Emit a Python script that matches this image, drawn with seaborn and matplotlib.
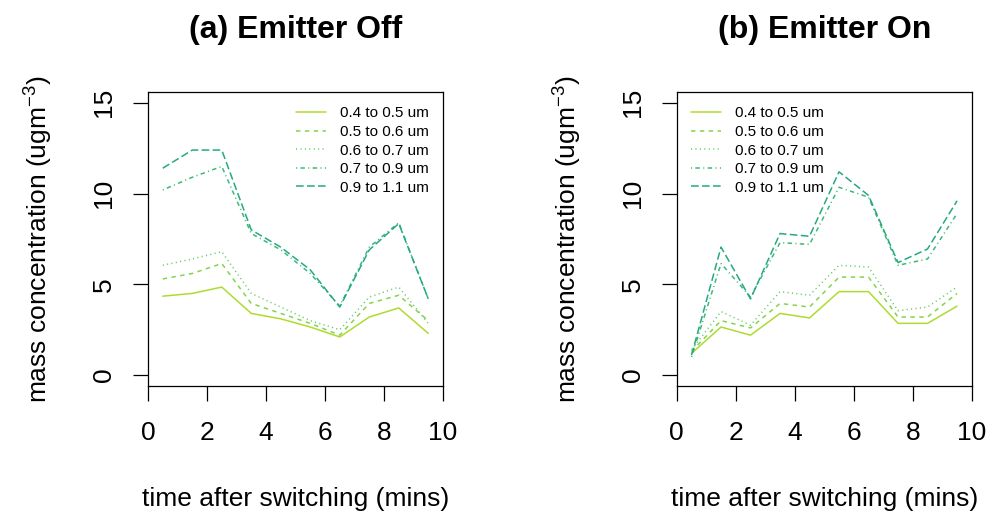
import numpy as np
import pandas as pd
import matplotlib
matplotlib.use("Agg")
import matplotlib.pyplot as plt
import seaborn as sns

# ---- data ----
time_mins = [0.5, 1.5, 2.5, 3.5, 4.5, 5.5, 6.5, 7.5, 8.5, 9.5]
size_bins = ["0.4 to 0.5 um", "0.5 to 0.6 um", "0.6 to 0.7 um",
             "0.7 to 0.9 um", "0.9 to 1.1 um"]

off_04_05 = [4.35, 4.5, 4.85, 3.4, 3.1, 2.65, 2.1, 3.2, 3.7, 2.3]
off_05_06 = [5.3, 5.6, 6.15, 3.95, 3.4, 2.85, 2.2, 3.95, 4.4, 3.0]
off_06_07 = [6.05, 6.4, 6.8, 4.5, 3.75, 3.0, 2.5, 4.3, 4.85, 2.85]
off_07_09 = [10.2, 10.9, 11.5, 7.8, 6.9, 5.6, 3.8, 7.05, 8.4, 4.2]
off_09_11 = [11.4, 12.4, 12.4, 8.0, 7.05, 5.8, 3.75, 6.9, 8.35, 4.2]

on_04_05 = [1.2, 2.65, 2.2, 3.4, 3.15, 4.6, 4.6, 2.85, 2.85, 3.8]
on_05_06 = [1.3, 3.0, 2.6, 3.95, 3.75, 5.4, 5.4, 3.2, 3.2, 4.5]
on_06_07 = [1.4, 3.5, 2.75, 4.6, 4.4, 6.05, 5.95, 3.55, 3.75, 4.85]
on_07_09 = [1.0, 6.15, 4.3, 7.3, 7.2, 10.35, 9.8, 6.05, 6.4, 8.9]
on_09_11 = [1.1, 7.05, 4.2, 7.8, 7.65, 11.2, 9.9, 6.2, 6.95, 9.6]

panels = [
    ("(a) Emitter Off", [off_04_05, off_05_06, off_06_07, off_07_09, off_09_11], "upper right"),
    ("(b) Emitter On", [on_04_05, on_05_06, on_06_07, on_07_09, on_09_11], "upper left"),
]

colors = ["#addc30", "#84d44b", "#5ec962", "#3bba75", "#25a982"]
# R line types: solid, dashed, dotted, dotdash, longdash
dashes = ["", (2.9, 2.9), (0.7, 2.2), (0.7, 2.2, 2.9, 2.2), (5.0, 2.2)]

sns.set_style("white")
plt.rcParams["font.family"] = ["Liberation Sans", "DejaVu Sans"]
plt.rcParams["mathtext.fontset"] = "custom"
plt.rcParams["mathtext.rm"] = "Liberation Sans"
plt.rcParams["mathtext.it"] = "Liberation Sans:italic"
plt.rcParams["text.color"] = "black"
plt.rcParams["axes.labelcolor"] = "black"
plt.rcParams["xtick.color"] = "black"
plt.rcParams["ytick.color"] = "black"

fig = plt.figure(figsize=(9.88, 5.15), dpi=100)
ax_pos = [[0.1498, 0.2505, 0.2986, 0.5709], [0.685, 0.2505, 0.2986, 0.5709]]

for pos, (title, series, loc) in zip(ax_pos, panels):
    ax = fig.add_axes(pos)
    rows = []
    for lab, vals in zip(size_bins, series):
        for t, v in zip(time_mins, vals):
            rows.append({"time": t, "conc": v, "size": lab})
    df = pd.DataFrame(rows)
    sns.lineplot(data=df, x="time", y="conc", hue="size", style="size",
                 palette=dict(zip(size_bins, colors)),
                 dashes=dict(zip(size_bins, dashes)),
                 hue_order=size_bins, style_order=size_bins,
                 estimator=None, sort=False, linewidth=1.1, ax=ax)

    ax.set_xlim(0, 10)
    ax.set_ylim(-0.6, 15.6)
    ax.set_xticks([0, 2, 4, 6, 8, 10])
    ax.set_yticks([0, 5, 10, 15])
    for sp in ax.spines.values():
        sp.set_visible(True)
        sp.set_color("black")
        sp.set_linewidth(0.9)
    ax.tick_params(axis="both", direction="out", length=11, width=0.9,
                   color="black", labelsize=19, left=True, bottom=True)
    ax.tick_params(axis="y", labelrotation=90, pad=12)
    ax.tick_params(axis="x", pad=14)
    for lbl in ax.get_yticklabels():
        lbl.set_va("center")

    ax.set_xlabel("time after switching (mins)", fontsize=19, va="center")
    ax.set_ylabel(r"mass concentration (ugm$^{-3}$)", fontsize=19, va="center")
    ax.xaxis.set_label_coords(0.5, -0.385)
    ax.yaxis.set_label_coords(-0.37, 0.5)
    ax.set_title(title, fontsize=23, fontweight="bold", y=1.211, va="center", pad=0)

    sns.move_legend(ax, loc, title=None, frameon=False, fontsize=11,
                    handlelength=1.95, handletextpad=0.9, labelspacing=0.3,
                    borderaxespad=0.55)

fig.savefig("out.png", dpi=100)
